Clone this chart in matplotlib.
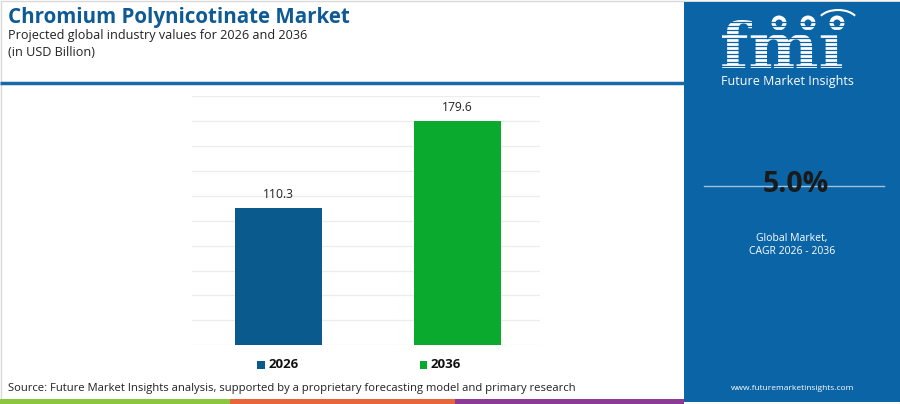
import matplotlib
matplotlib.use("Agg")
import matplotlib.pyplot as plt
from matplotlib.patches import Rectangle, Circle, Arc, PathPatch
from matplotlib.textpath import TextPath
from matplotlib.font_manager import FontProperties
from matplotlib.transforms import Affine2D

plt.rcParams['font.family'] = ['Open Sans', 'DejaVu Sans']

# data
years = ['2026', '2036']
values = [110.3, 179.6]
bar_colors = ['#0a5a8e', '#0aaa2e']
cagr = '5.0%'

title = 'Chromium Polynicotinate Market'
subtitle = 'Projected global industry values for 2026 and 2036'
unit = '(in USD Billion)'
source = 'Source: Future Market Insights analysis, supported by a proprietary forecasting model and primary research'

W, H = 900, 404
fig = plt.figure(figsize=(W / 100, H / 100), dpi=100)

# overlay in pixel coords for the decorations
bg = fig.add_axes([0, 0, 1, 1], zorder=0)
bg.set_xlim(0, W)
bg.set_ylim(H, 0)
bg.axis('off')

# light frame
bg.add_patch(Rectangle((0.5, 0.5), W - 1, H - 1, fill=False, ec='#d9d9d9', lw=1))

# header
bg.text(8, 18, title, fontsize=14.8, fontweight='bold', color='#0d5a95', va='center', ha='left')
bg.text(8, 35, subtitle, fontsize=9.1, color='#222222', va='center', ha='left')
bg.text(8, 53, unit, fontsize=9.1, color='#222222', va='center', ha='left')
bg.plot([0, 684], [83, 83], color='#1869a8', lw=2.5, solid_capstyle='butt')

# source + bottom stripe
bg.text(8, 388, source, fontsize=8.1, color='#222222', va='center', ha='left')
for x0, x1, c in [(0, 230, '#8cc63f'), (230, 455, '#e8643a'), (455, 684, '#8b3a95')]:
    bg.add_patch(Rectangle((x0, 399), x1 - x0, 5, color=c, lw=0))

# right panel
panel = '#0b64a5'
bg.add_patch(Rectangle((684, 2), 216, 400, color=panel, lw=0))

# logo letters as a path, fitted into its box (dotless i, the dot is a globe)
tp = TextPath((0, 0), 'fm\u0131', size=1, prop=FontProperties(family='DejaVu Serif', weight='bold'))
ext = tp.get_extents()
lx0, lx1, ly0, ly1 = 722, 842, 20, 68
sx = (lx1 - lx0) / ext.width
sy = (ly1 - ly0) / ext.height
tr = Affine2D().translate(-ext.x0, -ext.y0).scale(sx, -sy).translate(lx0, ly1)
bg.add_patch(PathPatch(tr.transform_path(tp), color='white', lw=0))
for yy in range(22, 70, 4):
    bg.plot([715, 850], [yy, yy], color=panel, lw=0.9)
for cx in [779, 808, 837]:
    bg.add_patch(Circle((cx, 23), 7.5, color='white', lw=0))
    bg.add_patch(Circle((cx, 23), 3.5, color=panel, lw=0))
bg.add_patch(Arc((838, 22), 40, 24, theta1=200, theta2=340, color='white', lw=1.5))
bg.text(787, 82, 'Future Market Insights', fontsize=9, color='white', ha='center', va='center')

bg.plot([704, 884], [186, 186], color='#9cc3e0', lw=1)
bg.text(796, 184, cagr, fontsize=20.5, fontweight='bold', color='#1a1a1a', ha='center', va='center')
bg.text(792, 238, 'Global Market,', fontsize=7.5, color='white', ha='center', va='center')
bg.text(792, 251, 'CAGR 2026 - 2036', fontsize=7.5, color='white', ha='center', va='center')
bg.text(793, 388, 'www.futuremarketinsights.com', fontsize=6.0, color='white', ha='center', va='center')

# bar chart
ax = fig.add_axes([191.7 / W, 58.7 / H, 348.3 / W, 249.3 / H], zorder=1)
ax.patch.set_alpha(0)
xs = list(range(len(years)))
ax.bar(xs, values, width=0.484, color=bar_colors, zorder=2)
ax.set_ylim(0, 200)
ax.set_xlim(-0.484, 1.462)
ax.set_yticks(range(0, 201, 20))
ax.yaxis.grid(True, color='#ececec', lw=0.9)
ax.set_axisbelow(True)
ax.tick_params(left=False, bottom=False, labelleft=False, labelbottom=False)
for s in ax.spines.values():
    s.set_visible(False)
for x, v in zip(xs, values):
    ax.annotate(f'{v:.1f}', (x, v), xytext=(0, 5), textcoords='offset points',
                ha='center', va='bottom', fontsize=8.7, color='#222222')

# legend
for i, (yr, c) in enumerate(zip(years, bar_colors)):
    lx = 257 + i * 162.5
    bg.add_patch(Rectangle((lx, 360.5), 7.5, 8, color=c, lw=0))
    bg.text(lx + 11.5, 364.5, yr, fontsize=9.5, fontweight='bold', color='#111111',
            ha='left', va='center')

fig.savefig('out.png', dpi=100)
